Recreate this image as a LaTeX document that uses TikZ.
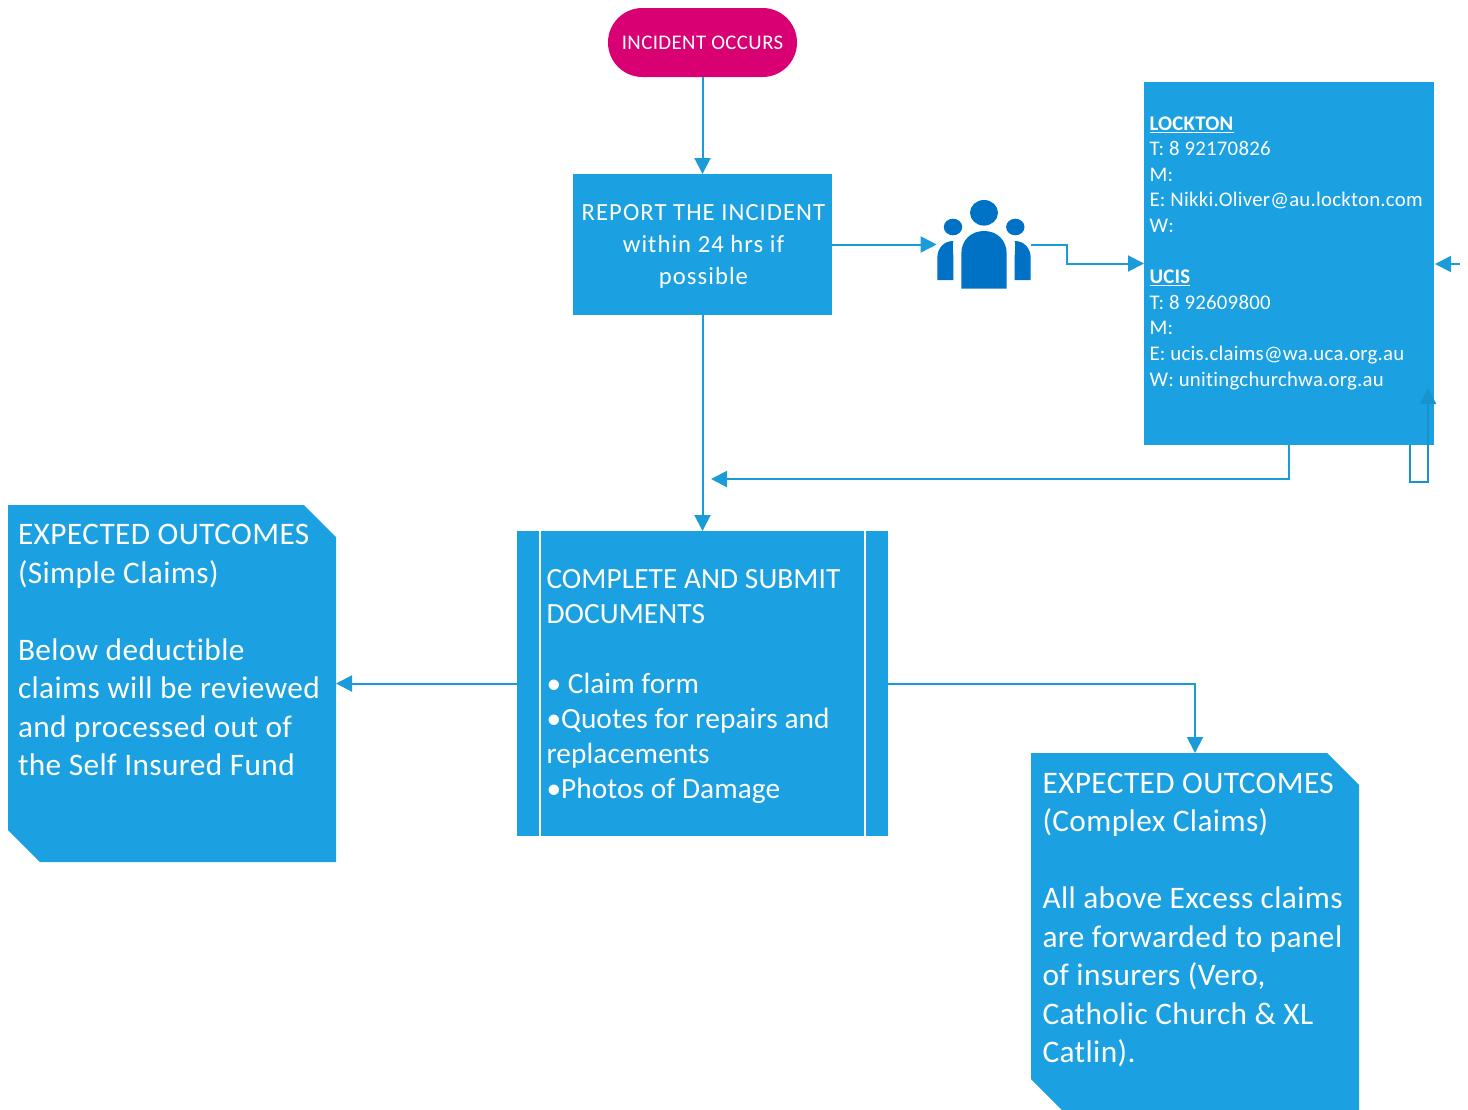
\documentclass[tikz,border=0pt]{standalone}
\usepackage{fontspec}
\setmainfont[Ligatures=NoCommon]{Carlito}
\usetikzlibrary{arrows.meta}
\definecolor{boxblue}{HTML}{1BA1E2}
\definecolor{lineblue}{HTML}{1B9BD7}
\definecolor{loopblue}{HTML}{1793CE}
\definecolor{pillpink}{HTML}{D80073}
\definecolor{iconblue}{HTML}{0072C6}
\newcommand{\fs}[3]{\fontsize{#1}{#2}\selectfont\addfontfeature{LetterSpace=#3}}
\tikzset{
  x=0.75pt,y=-0.75pt,
  conn/.style={draw=lineblue,line width=1.5pt,-{Triangle[length=12pt,width=12pt]}},
  plainbox/.style={fill=boxblue,draw=none,inner sep=0pt,outer sep=0pt},
  anchorbox/.style={inner sep=0pt,outer sep=0pt,draw=none},
  txt/.style={text=white,inner sep=0pt,outer sep=0pt,anchor=north west,align=left},
}
\begin{document}
\begin{tikzpicture}
\useasboundingbox (0,0) rectangle (1468,1110);
% shapes
\node[plainbox,minimum width=141.75pt,minimum height=51.75pt,rounded corners=25.8pt,fill=pillpink,text=white] (pill) at (702.5,42.5) {\fs{15.6}{18}{2}INCIDENT OCCURS};
\node[plainbox,minimum width=194.25pt,minimum height=105.75pt] (report) at (702.5,244.5) {};
\node[plainbox,minimum width=217.5pt,minimum height=272.25pt] (lockton) at (1289,263.5) {};
\node[plainbox,minimum width=278.25pt,minimum height=228.75pt] (main) at (702.5,683.5) {};
\draw[white,line width=1.5pt] (540,531) -- (540,836) (865,531) -- (865,836);
\fill[boxblue] (8,505) -- (304,505) -- (336,537) -- (336,862) -- (40,862) -- (8,830) -- cycle;
\node[anchorbox,minimum width=246pt,minimum height=267.75pt] (simple) at (172,683.5) {};
\fill[boxblue] (1031,753) -- (1327,753) -- (1359,785) -- (1359,1110) -- (1062,1110) -- (1031,1079) -- cycle;
\node[anchorbox,minimum width=246pt,minimum height=267.75pt] (complex) at (1195,931.5) {};
% icon
\fill[iconblue] (984,212.8) circle[x radius=14,y radius=12.8];
\fill[iconblue] (953,227) circle[x radius=9.2,y radius=8.3];
\fill[iconblue] (1015.3,227) circle[x radius=9.2,y radius=8.3];
\fill[iconblue] (961.3,288.7) -- (961.3,254) .. controls (961.3,240) and (971,231) .. (984,231) .. controls (997,231) and (1006.7,240) .. (1006.7,254) -- (1006.7,288.7) -- cycle;
\fill[iconblue] (937.3,280) -- (937.3,258) .. controls (937.3,248) and (944,241) .. (953.3,241) .. controls (952,247) and (953.3,250) .. (953.3,256) -- (953.3,280) -- cycle;
\fill[iconblue] (1030.7,280) -- (1030.7,258) .. controls (1030.7,248) and (1024,241) .. (1014.7,241) .. controls (1016,247) and (1014.7,250) .. (1014.7,256) -- (1014.7,280) -- cycle;
\node[anchorbox,minimum width=71pt,minimum height=66pt] (people) at (984,244.5) {};
% texts
\node[text=white,inner sep=0pt,align=center,font=\fs{18.5}{24}{4.2}] (reporttxt) at (703.5,246) {REPORT THE INCIDENT\\within 24 hrs if\\possible\hspace{4pt}};
\node[txt,font=\fs{15.6}{19.2}{1.2}] (locktontxt) at (1149.5,116.5) {\underline{\textbf{LOCKTON}}\\T: 8 92170826\\M:\\E: Nikki.Oliver@au.lockton.com\\W:\\\mbox{}\\\underline{\textbf{UCIS}}\\T: 8 92609800\\M:\\E: ucis.claims@wa.uca.org.au\\W: unitingchurchwa.org.au};
\node[txt,font=\fs{22}{26.3}{0.3}] (maintxt) at (546.5,569.5) {COMPLETE AND SUBMIT\\DOCUMENTS\\\mbox{}\\• Claim form\\•Quotes for repairs and\\replacements\\•Photos of Damage};
\node[txt,font=\fs{23.5}{28.85}{1.3}] (simpletxt) at (18,524.5) {EXPECTED OUTCOMES\\(Simple Claims)\\\mbox{}\\Below deductible\\claims will be reviewed\\and processed out of\\the Self Insured Fund};
\node[txt,font=\fs{23.5}{28.85}{1.3}] (complextxt) at (1042.5,773) {EXPECTED OUTCOMES\\(Complex Claims)\\\mbox{}\\All above Excess claims\\are forwarded to panel\\of insurers (Vero,\\Catholic Church \& XL\\Catlin).};
% connector ends
\coordinate (backtip) at (711,479);
\coordinate (rightfree) at (1460,264);
\coordinate (rightend) at (1435,264);
\coordinate (loopstart) at (1410,445);
\coordinate (loopend) at (1428,388);
% connectors
\draw[conn] (pill.south) -- (report.north);
\draw[conn] (report.south) -- (main.north);
\draw[conn] (report.east) -- (people.west);
\draw[conn] (people.east) -- ++(36,0) |- (lockton.west);
\draw[conn] (lockton.south) |- (backtip);
\draw[conn] (main.west) -- (simple.east);
\draw[conn] (main.east) -| (complex.north);
\draw[conn] (rightfree) -- (rightend);
\draw[conn,draw=loopblue] (loopstart) |- ++(18,37) -- (loopend);
\end{tikzpicture}
\end{document}
